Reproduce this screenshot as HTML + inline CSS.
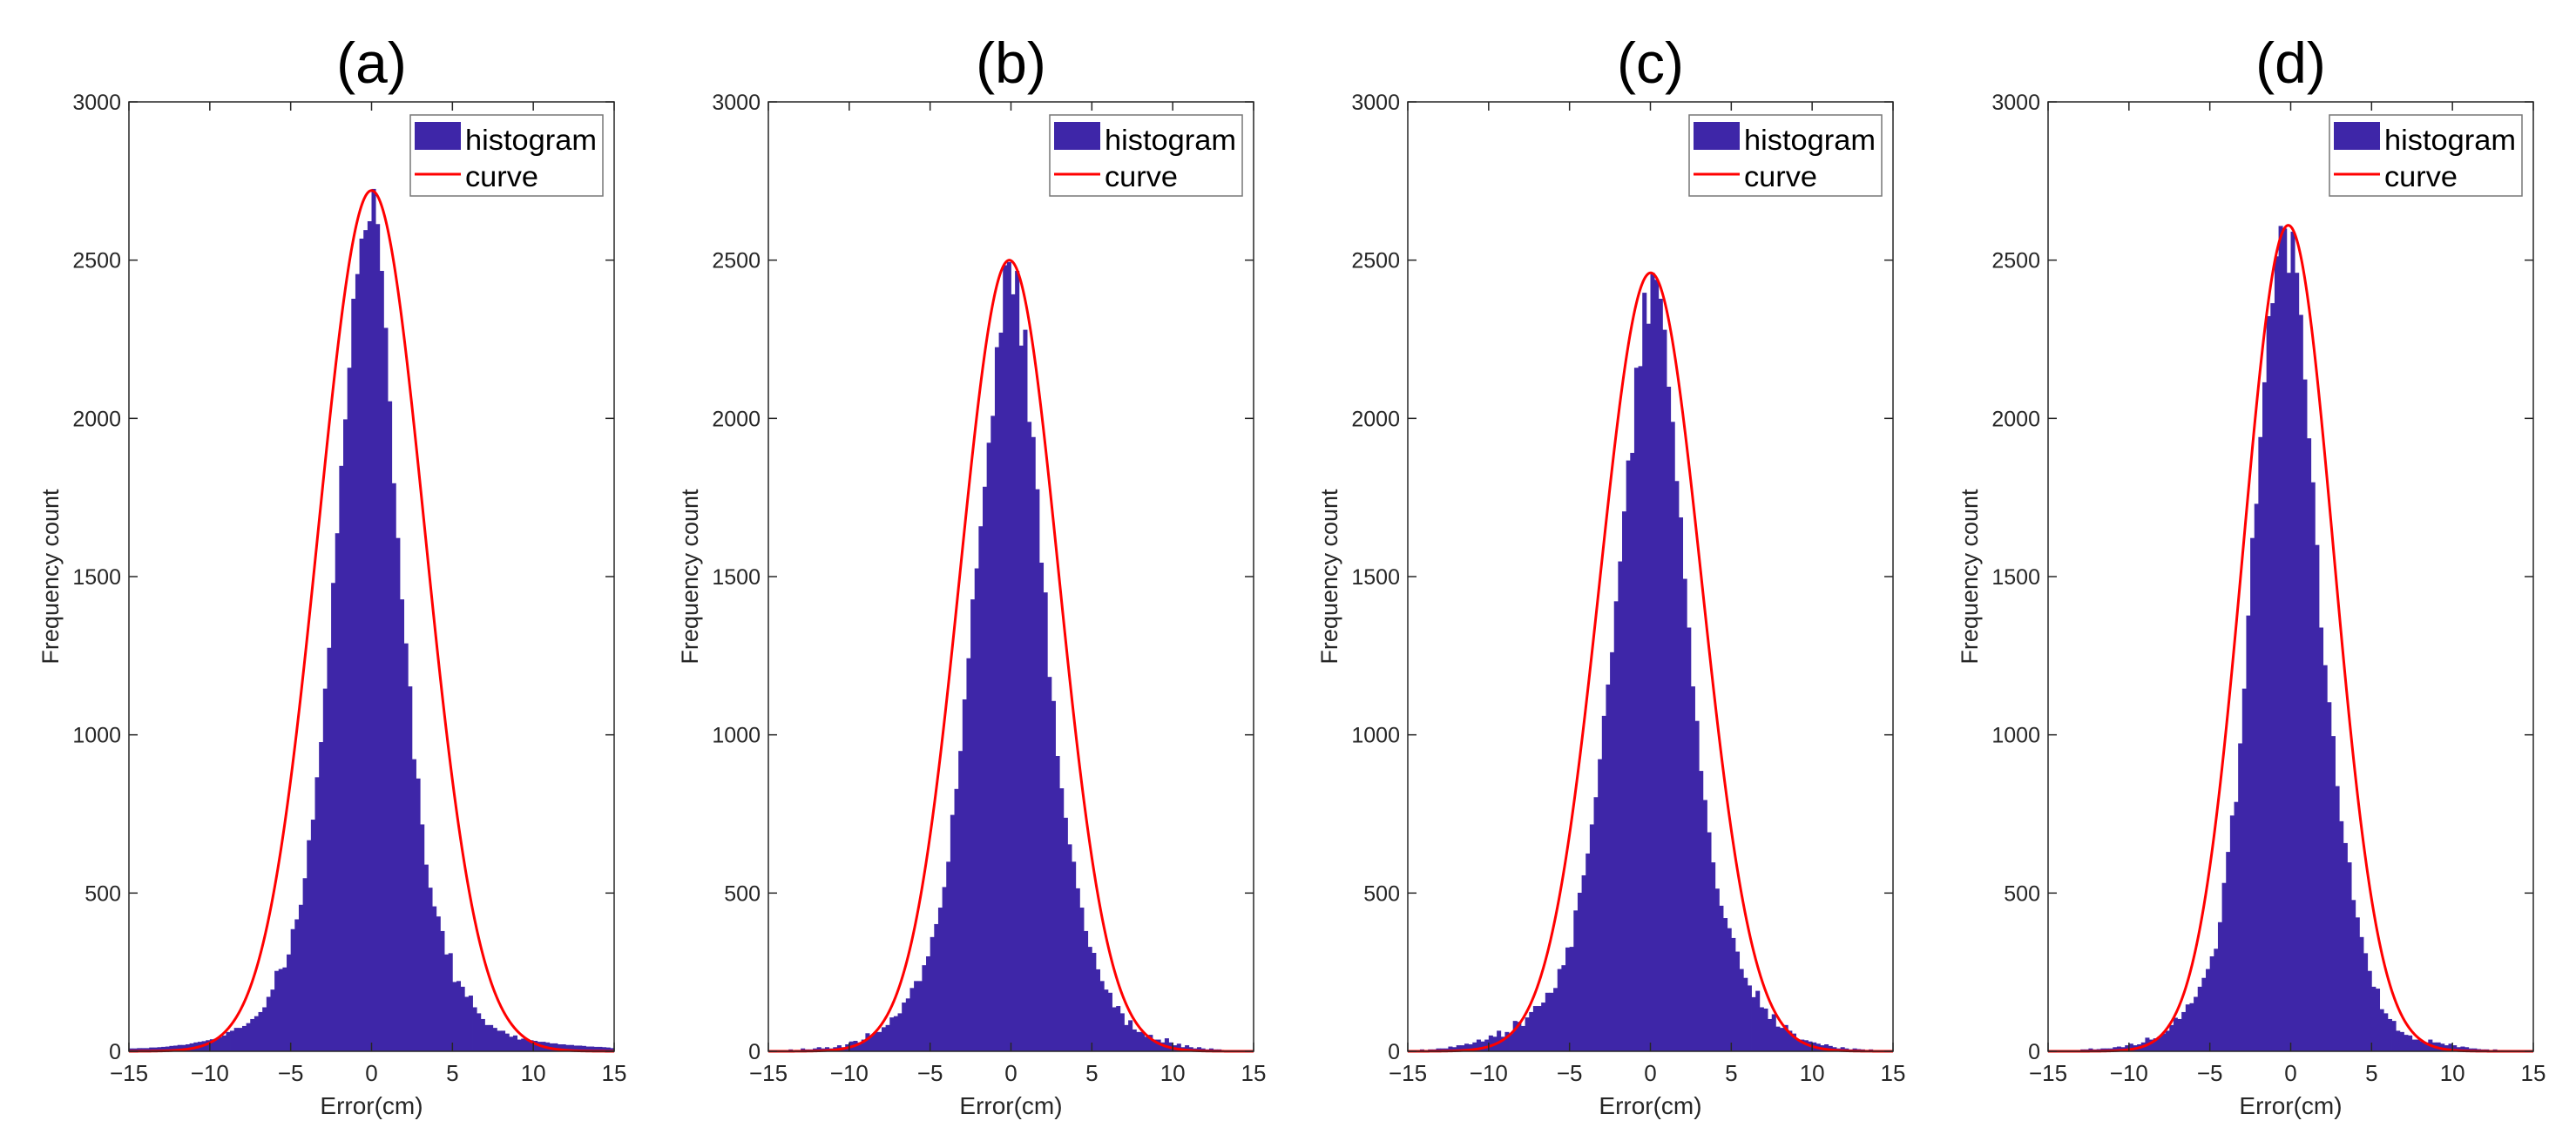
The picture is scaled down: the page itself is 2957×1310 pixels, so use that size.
<!DOCTYPE html>
<html><head><meta charset="utf-8"><style>
html,body{margin:0;padding:0;background:#fff;}
svg{display:block;font-family:"Liberation Sans",Arial,sans-serif;}
</style></head><body>
<svg id="fig" width="2957" height="1310" viewBox="0 0 2957 1310" xmlns="http://www.w3.org/2000/svg"></svg>
<script>
const panelTitles = ["(a)","(b)","(c)","(d)"];
const xTicks = [-15,-10,-5,0,5,10,15];
const yTicks = [0,500,1000,1500,2000,2500,3000];
const binStart = -15, binWidth = 0.25;
const histA = [9,9,10,10,10,12,12,13,14,15,17,18,20,20,22,25,28,30,32,35,38,40,45,
 50,61,65,74,74,80,89,102,111,124,139,172,195,254,260,265,306,386,417,463,547,667,732,866,977,1146,1275,1480,1637,1850,1997,2160,2378,2456,2568,2595,2623,
 2725,
 2614,2466,2286,2054,1795,1622,1428,1289,1153,923,862,717,590,517,458,426,380,306,310,219,222,204,172,176,139,120,102,83,83,74,65,65,56,
 46,50,37,40,38,35,33,30,30,28,25,25,22,22,20,20,18,18,17,15,15,14,14,13,12,10];
const histB = [4,2,2,4,2,6,4,4,9,6,6,9,13,9,13,9,13,19,13,22,31,33,28,37,57,50,61,61,76,83,107,111,120,154,167,200,222,222,272,300,361,402,454,519,599,747,829,949,1112,1242,1428,1526,1659,1784,1923,2008,2225,2271,2484,2494,
 2392,2466,2230,2280,1989,1941,1776,1544,1450,1183,1107,933,831,738,654,599,515,454,380,330,311,259,222,195,185,139,143,120,83,98,69,61,61,46,52,
 37,37,28,41,28,19,24,13,19,13,9,13,9,6,9,6,6,4,4,4,4,2,2,2,2];
const histC = [2,2,2,6,4,6,6,9,9,9,15,13,19,19,24,22,28,37,31,37,50,46,65,46,61,56,96,93,80,107,124,143,143,154,185,185,200,260,272,328,330,445,501,556,625,717,803,923,1060,1159,1261,1422,1548,1706,1867,1891,2160,2165,2397,2299,
 2460,2438,2378,2280,2100,1989,1802,1687,1493,1339,1153,1044,886,794,692,597,514,460,421,389,358,315,260,232,208,171,191,139,135,102,117,78,74,83,65,56,
 37,37,35,31,28,24,19,22,17,13,9,13,9,6,9,7,6,4,6,4,2,4,2,2];
const histD = [2,0,2,2,4,2,4,4,6,6,9,6,7,9,9,9,13,15,13,19,24,19,22,28,43,37,41,46,56,65,83,106,102,124,148,152,172,204,232,260,300,324,408,532,630,745,788,973,1146,1377,1622,1730,1941,2114,2323,2364,2512,2608,2600,2460,
 2590,2460,2327,2123,1937,1798,1600,1339,1220,1103,996,838,727,658,597,478,423,361,310,254,204,198,133,120,102,96,65,61,52,50,37,
 37,31,28,37,28,28,24,19,24,19,13,15,13,9,9,7,6,6,4,6,4,2,4,2,2,0,2,0,2];
const curvePeak = [2720,2500,2460,2610];
const curveMu = [0,-0.1,0.02,-0.15];
const curveSigma = [3.29,3.04,3.14,2.8];
const histData = [histA,histB,histC,histD];

const NS="http://www.w3.org/2000/svg";
const svg=document.getElementById('fig');
const panelLeft=[148,882,1616,2351], W=557, TOP=117, BOT=1207;
const AX="#262626";
function mk(tag,attrs,parent){const e=document.createElementNS(NS,tag);for(const k in attrs)e.setAttribute(k,attrs[k]);(parent||svg).appendChild(e);return e;}

panelTitles.forEach((title,p)=>{
  const L=panelLeft[p];
  const xs=v=>L+(v+15)/30*W;
  const ys=v=>BOT-v/3000*(BOT-TOP);
  const g=mk('g',{});
  
  
  const bars=mk('g',{fill:'#3E26A8'},g);
  
  
  histData[p].forEach((v,k)=>{
    const x0=xs(binStart+k*binWidth), x1=xs(binStart+(k+1)*binWidth);
    const r=mk('rect',{x:x0,y:ys(v),width:x1-x0+0.4,height:BOT-ys(v)},bars);
    
    
  });
  let d='';
  for(let i=0;i<=600;i++){const u=-15+i*0.05;const c=curvePeak[p]*Math.exp(-0.5*Math.pow((u-curveMu[p])/curveSigma[p],2));d+=(i?'L':'M')+xs(u).toFixed(2)+','+ys(c).toFixed(2);}
  const cv=mk('path',{d:d,fill:'none',stroke:'#ff0000','stroke-width':3},g);
  
  
  const box=mk('rect',{x:L,y:TOP,width:W,height:BOT-TOP,fill:'none',stroke:AX,'stroke-width':1.5},g);
  
  
  xTicks.forEach(t=>{
    const x=xs(t);
    mk('line',{x1:x,y1:BOT,x2:x,y2:BOT-10,stroke:AX,'stroke-width':1.5},g);
    mk('line',{x1:x,y1:TOP,x2:x,y2:TOP+10,stroke:AX,'stroke-width':1.5},g);
    const tx=mk('text',{x:x,y:1241,'font-size':26,fill:AX,'text-anchor':'middle'},g);
    tx.textContent=(t<0?'\u2212'+(-t):String(t));
    
    
  });
  yTicks.forEach(t=>{
    const y=ys(t);
    mk('line',{x1:L,y1:y,x2:L+10,y2:y,stroke:AX,'stroke-width':1.5},g);
    mk('line',{x1:L+W,y1:y,x2:L+W-10,y2:y,stroke:AX,'stroke-width':1.5},g);
    const ty=mk('text',{x:L-9,y:y+9,'font-size':25,fill:AX,'text-anchor':'end'},g);
    ty.textContent=String(t);
    
    
  });
  const xl=mk('text',{x:L+W/2,y:1279,'font-size':28,fill:AX,'text-anchor':'middle'},g);
  xl.textContent='Error(cm)';
  
  
  const yl=mk('text',{x:0,y:0,'font-size':27,fill:AX,'text-anchor':'middle',transform:'translate('+(L-81)+',662) rotate(-90)'},g);
  yl.textContent='Frequency count';
  
  
  const tt=mk('text',{x:L+W/2,y:95,'font-size':66,fill:'#000','text-anchor':'middle'},g);
  tt.textContent=title;
  
  
  const lg=mk('g',{},g);
  
  
  mk('rect',{x:L+323,y:TOP+15,width:221,height:93,fill:'#fff',stroke:'#777','stroke-width':1.5},lg);
  const sw=mk('rect',{x:L+328,y:TOP+23,width:53,height:32,fill:'#3E26A8'},lg);
  
  
  const ln=mk('line',{x1:L+328,y1:TOP+83,x2:L+381,y2:TOP+83,stroke:'#ff0000','stroke-width':3},lg);
  
  
  const t1=mk('text',{x:L+386,y:TOP+55,'font-size':33,fill:'#000',textLength:151,lengthAdjust:'spacingAndGlyphs'},lg);
  t1.textContent='histogram';
  
  
  const t2=mk('text',{x:L+386,y:TOP+97,'font-size':33,fill:'#000',textLength:84,lengthAdjust:'spacingAndGlyphs'},lg);
  t2.textContent='curve';
  
  
});
</script>
</body></html>
